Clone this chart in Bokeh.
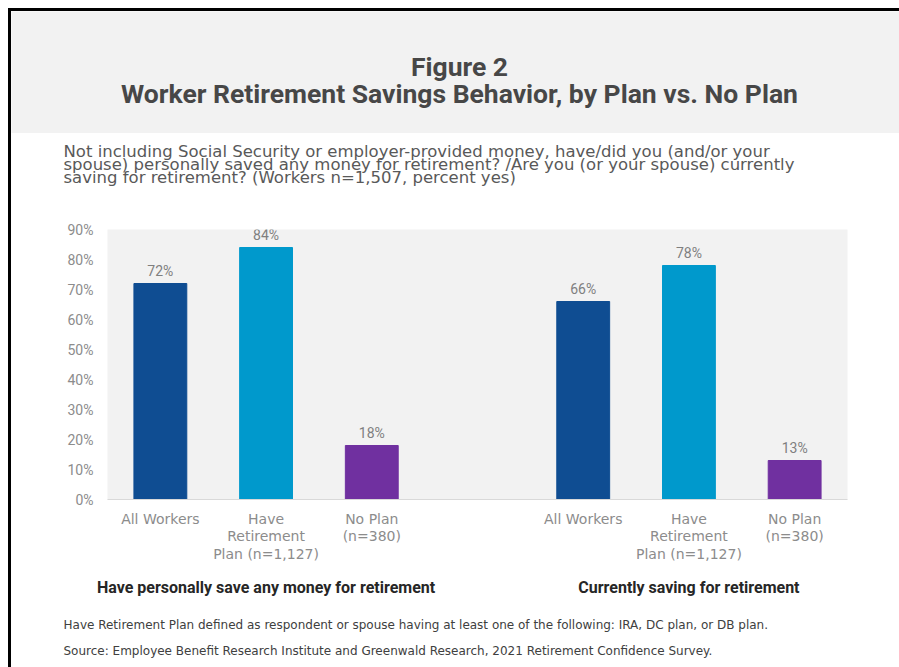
from bokeh.plotting import figure
from bokeh.models import (ColumnDataSource, Range1d, FixedTicker, LinearAxis, Label,
                          LabelSet, PrintfTickFormatter)
from bokeh.layouts import column
from bokeh.core.properties import value
from bokeh.embed import file_html
from bokeh.resources import INLINE

# ---------------- data ----------------
title_lines = ["Figure 2", "Worker Retirement Savings Behavior, by Plan vs. No Plan"]
subtitle_lines = [
    "Not including Social Security or employer-provided money, have/did you (and/or your",
    "spouse) personally saved any money for retirement? /Are you (or your spouse) currently",
    "saving for retirement? (Workers n=1,507, percent yes)",
]
groups = ["Have personally save any money for retirement", "Currently saving for retirement"]
categories = ["All Workers", "Have\nRetirement\nPlan (n=1,127)", "No Plan\n(n=380)"]
saved_money = [72, 84, 18]
currently_saving = [66, 78, 13]
y_ticks = [0, 10, 20, 30, 40, 50, 60, 70, 80, 90]
footnotes = [
    "Have Retirement Plan defined as respondent or spouse having at least one of the following: IRA, DC plan, or DB plan.",
    "Source:  Employee Benefit Research Institute and Greenwald Research, 2021 Retirement Confidence Survey.",
]

# ---------------- style ----------------
palette = ["#0F4D92", "#0099CC", "#7030A0"]
W = 888
REG = "DejaVu Sans"
NUM = "Roboto"
BOLD = "Roboto"


def blank(height, bg="white"):
    f = figure(width=W, height=height, x_range=Range1d(0, W), y_range=Range1d(height, 0),
               toolbar_location=None, output_backend="svg", min_border=0,
               x_axis_location=None, y_axis_location=None, frame_align=False,
               background_fill_color=bg, border_fill_color=bg, outline_line_color=None)
    f.grid.visible = False
    return f


# header
header = blank(122, "#f2f2f2")
for txt, yb in zip(title_lines, [55.4, 82.4]):
    header.add_layout(Label(x=448, y=yb, text=txt, text_align="center", text_baseline="alphabetic",
                            text_font=BOLD, text_font_style="bold", text_font_size="26.5px",
                            text_color="#474747"))

# subtitle
sub = blank(82)
for txt, yb in zip(subtitle_lines, [18.2, 31.2, 44.2]):
    sub.add_layout(Label(x=52, y=yb, text=txt, text_align="left", text_baseline="alphabetic",
                         text_font=REG, text_font_size="16.5px", text_color="#595959"))

# chart
series = [saved_money, currently_saving]
gap = 1
step = len(categories) + gap
xs, tops, cols, texts = [], [], [], []
for g, vals in enumerate(series):
    for j, v in enumerate(vals):
        xs.append(g * step + j)
        tops.append(v)
        cols.append(palette[j])
        texts.append(f"{v}%")
src = ColumnDataSource(dict(x=xs, top=tops, color=cols, label=texts))
centers = [g * step + (len(categories) - 1) // 2 for g in range(len(series))]

p = figure(frame_width=740, frame_height=270,
           x_range=Range1d(-0.5, len(series) * step - gap - 0.5), y_range=Range1d(0, 90),
           toolbar_location=None, output_backend="svg", frame_align=False,
           min_border_left=96, min_border_right=52, min_border_top=14, min_border_bottom=109,
           background_fill_color="#f2f2f2", border_fill_color="white", outline_line_color=None)
p.grid.visible = False
p.vbar(x="x", top="top", width=0.5, color="color", source=src)
p.add_layout(LabelSet(x="x", y="top", text="label", source=src, text_align="center",
                      text_baseline="alphabetic", y_offset=8, text_font=value(NUM),
                      text_font_size=value("14px"), text_color=value("#7f7f7f")))

xa = p.xaxis[0]
xa.ticker = FixedTicker(ticks=xs)
xa.major_label_overrides = {x: categories[i % len(categories)] for i, x in enumerate(xs)}
xa.axis_line_color = "#d9d9d9"
xa.major_tick_line_color = None
xa.minor_tick_line_color = None
xa.major_label_standoff = 5
xa.major_label_text_font = REG
xa.major_label_text_font_size = "14px"
xa.major_label_text_line_height = 1.12
xa.major_label_text_color = "#8c8c8c"

ga = LinearAxis(ticker=FixedTicker(ticks=centers),
                major_label_overrides={c: groups[i] for i, c in enumerate(centers)})
ga.axis_line_color = None
ga.major_tick_line_color = None
ga.minor_tick_line_color = None
ga.major_label_standoff = 6
ga.major_label_text_font = BOLD
ga.major_label_text_font_style = "bold"
ga.major_label_text_font_size = "16px"
ga.major_label_text_color = "#262626"
p.add_layout(ga, "below")

ya = p.yaxis[0]
ya.ticker = FixedTicker(ticks=y_ticks)
ya.formatter = PrintfTickFormatter(format="%d%%")
ya.axis_line_color = None
ya.major_tick_line_color = None
ya.minor_tick_line_color = None
ya.major_label_standoff = 8
ya.major_label_text_font = NUM
ya.major_label_text_font_size = "14px"
ya.major_label_text_color = "#8c8c8c"

# footer
foot = blank(59)
for txt, yb in zip(footnotes, [16.3, 42.5]):
    foot.add_layout(Label(x=52, y=yb, text=txt, text_align="left", text_baseline="alphabetic",
                          text_font=REG, text_font_size="12px", text_color="#404040"))

layout = column(header, sub, p, foot, spacing=0,
                styles={"margin-left": "8px", "margin-top": "8px",
                        "border-left": "3px solid black", "border-top": "3px solid black"})

open("out.html", "w").write(file_html(layout, INLINE))
